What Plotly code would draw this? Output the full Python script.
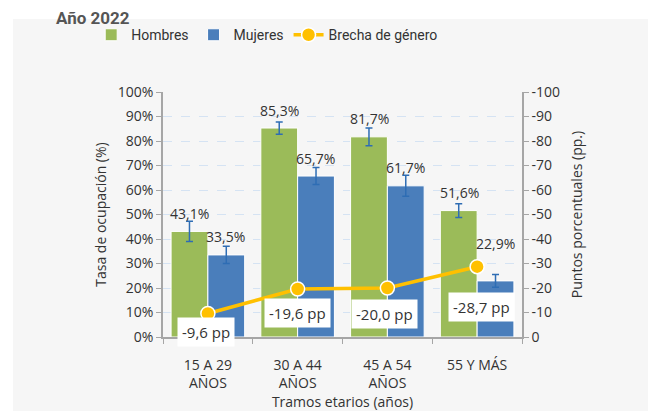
import plotly.graph_objects as go

categories = ['15 A 29<br>AÑOS', '30 A 44<br>AÑOS', '45 A 54<br>AÑOS', '55 Y MÁS']
hombres = [43.1, 85.3, 81.7, 51.6]
mujeres = [33.5, 65.7, 61.7, 22.9]
err_hombres = [4.1, 2.5, 3.6, 2.8]
err_mujeres = [3.5, 3.5, 4.3, 2.6]
brecha = [-9.6, -19.6, -20.0, -28.7]
pp_ticks = list(range(0, -101, -10))

def fmt(v, suffix):
    return f'{v:.1f}'.replace('.', ',') + suffix

font = 'Open Sans'
txt = '#333333'
err_col = '#2e6db4'

fig = go.Figure()
fig.add_trace(go.Bar(
    x=categories, y=hombres, name='Hombres',
    marker=dict(color='#9bbb59', line=dict(color='white', width=1)),
    error_y=dict(type='data', array=err_hombres, color=err_col, thickness=1.5, width=3.5),
))
fig.add_trace(go.Bar(
    x=categories, y=mujeres, name='Mujeres',
    marker=dict(color='#4a7ebb', line=dict(color='white', width=1)),
    error_y=dict(type='data', array=err_mujeres, color=err_col, thickness=1.5, width=3.5),
))
fig.add_trace(go.Scatter(
    x=categories, y=brecha, name='Brecha de género', yaxis='y2',
    mode='lines+markers',
    line=dict(color='#ffc000', width=3.5),
    marker=dict(color='#ffc000', size=14, line=dict(color='white', width=1.5)),
))

# value labels over the bars
for i, cat in enumerate(categories):
    fig.add_annotation(x=cat, y=hombres[i], xref='x', yref='y', text=fmt(hombres[i], '%'),
                       showarrow=False, xshift=-18, yshift=18,
                       font=dict(family=font, size=14, color=txt))
    fig.add_annotation(x=cat, y=mujeres[i], xref='x', yref='y', text=fmt(mujeres[i], '%'),
                       showarrow=False, xshift=18, yshift=37 if i == 3 else 18,
                       font=dict(family=font, size=14, color=txt))

# gap labels
gap_yshift = [-19, -24, -26, -40]
gap_xshift = [-2, 0, -3, 4]
for i, cat in enumerate(categories):
    fig.add_annotation(x=cat, y=brecha[i], xref='x', yref='y2', text=fmt(brecha[i], ' pp'),
                       showarrow=False, xshift=gap_xshift[i], yshift=gap_yshift[i],
                       bgcolor='white', borderpad=4,
                       font=dict(family=font, size=15, color=txt))

fig.add_annotation(x=-0.304, y=1.302, xref='paper', yref='paper', text='<b>Año 2022</b>',
                   showarrow=False, xanchor='left', yanchor='middle',
                   font=dict(family='Roboto', size=17, color='#555555'))

# gray panel behind the chart
fig.add_shape(type='rect', xref='paper', yref='paper', x0=-0.418, x1=1.5, y0=-0.35, y1=1.298,
              fillcolor='#f6f6f6', line=dict(width=0), layer='below')

fig.update_layout(
    width=648, height=411,
    margin=dict(l=163, r=126, t=92, b=74),
    paper_bgcolor='white', plot_bgcolor='#f6f6f6',
    barmode='group', bargap=0.18, bargroupgap=0,
    font=dict(family=font, size=14, color=txt),
    showlegend=True,
    legend=dict(orientation='h', x=-0.2, y=1.232, xanchor='left', yanchor='middle',
                font=dict(family='Roboto', size=14, color=txt), bgcolor='rgba(0,0,0,0)',
                itemwidth=30, tracegroupgap=0),
    xaxis=dict(
        automargin=False,
        showline=True, linecolor='#a6a6a6', linewidth=1.5,
        ticks='outside', tickson='boundaries', ticklen=5, tickcolor='#a6a6a6',
        tickfont=dict(size=14), ticklabelstandoff=14,
        title=dict(text='Tramos etarios (años)', font=dict(size=14), standoff=6),
    ),
    yaxis=dict(
        automargin=False,
        range=[0, 100], dtick=10, ticksuffix='%',
        showline=True, linecolor='#a6a6a6', linewidth=1.5,
        ticks='outside', ticklen=5, tickcolor='#a6a6a6',
        showgrid=True, gridcolor='#d5e3f3', griddash='dash', zeroline=False,
        title=dict(text='Tasa de ocupación (%)', font=dict(size=14), standoff=8),
    ),
    yaxis2=dict(
        automargin=False,
        overlaying='y', side='right', range=[0, -100],
        tickvals=pp_ticks, ticktext=[str(v) for v in pp_ticks],
        showline=True, linecolor='#a6a6a6', linewidth=1.5,
        ticks='outside', ticklen=5, tickcolor='#a6a6a6',
        showgrid=False, zeroline=False,
        title=dict(text='Puntos porcentuales (pp.)', font=dict(size=14), standoff=13),
    ),
)

fig.write_html('out.html', config={'displayModeBar': False},
               post_script="document.body.style.margin='0';")
